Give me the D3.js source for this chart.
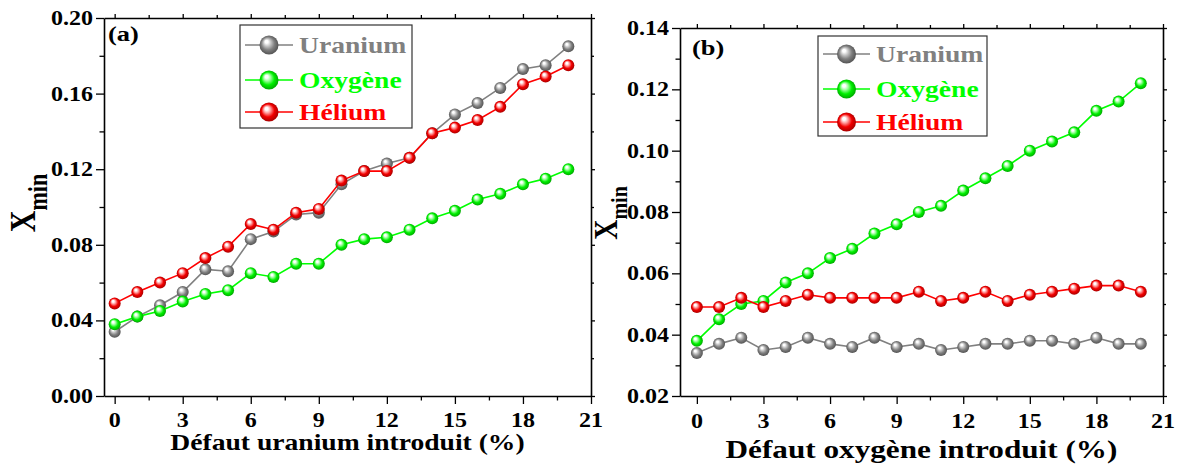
<!DOCTYPE html>
<html>
<head>
<meta charset="utf-8">
<script src="https://cdn.jsdelivr.net/npm/d3@7"></script>
<style>
  html, body { margin: 0; padding: 0; background: #fff; }
  svg { display: block; }
</style>
</head>
<body>
<svg id="chart" width="1181" height="466"></svg>
<script>
// ---------- data ----------
const defectPct = [0, 1, 2, 3, 4, 5, 6, 7, 8, 9, 10, 11, 12, 13, 14, 15, 16, 17, 18, 19, 20];

const uraniumA = [0.034, 0.042, 0.048, 0.055, 0.067, 0.066, 0.083, 0.087, 0.096, 0.097, 0.112, 0.119, 0.123, 0.126, 0.139, 0.149, 0.155, 0.163, 0.173, 0.175, 0.185];
const oxygenA  = [0.038, 0.042, 0.045, 0.050, 0.054, 0.056, 0.065, 0.063, 0.070, 0.070, 0.080, 0.083, 0.084, 0.088, 0.094, 0.098, 0.104, 0.107, 0.112, 0.115, 0.120];
const heliumA  = [0.049, 0.055, 0.060, 0.065, 0.073, 0.079, 0.091, 0.088, 0.097, 0.099, 0.114, 0.119, 0.119, 0.126, 0.139, 0.142, 0.146, 0.153, 0.165, 0.169, 0.175];

const uraniumB = [0.034, 0.037, 0.039, 0.035, 0.036, 0.039, 0.037, 0.036, 0.039, 0.036, 0.037, 0.035, 0.036, 0.037, 0.037, 0.038, 0.038, 0.037, 0.039, 0.037, 0.037];
const oxygenB  = [0.038, 0.045, 0.050, 0.051, 0.057, 0.060, 0.065, 0.068, 0.073, 0.076, 0.080, 0.082, 0.087, 0.091, 0.095, 0.100, 0.103, 0.106, 0.113, 0.116, 0.122];
const heliumB  = [0.049, 0.049, 0.052, 0.049, 0.051, 0.053, 0.052, 0.052, 0.052, 0.052, 0.054, 0.051, 0.052, 0.054, 0.051, 0.053, 0.054, 0.055, 0.056, 0.056, 0.054];

const seriesNames = ["Uranium", "Oxygène", "Hélium"];
const xTickValues = [0, 3, 6, 9, 12, 15, 18, 21];
const xMinorValues = [1.5, 4.5, 7.5, 10.5, 13.5, 16.5, 19.5];
const yTicksA = [0.00, 0.04, 0.08, 0.12, 0.16, 0.20];
const yMinorA = [0.02, 0.06, 0.10, 0.14, 0.18];
const yTicksB = [0.02, 0.04, 0.06, 0.08, 0.10, 0.12, 0.14];
const yMinorB = [0.03, 0.05, 0.07, 0.09, 0.11, 0.13];
const xTitleA = "Défaut uranium introduit (%)";
const xTitleB = "Défaut oxygène introduit (%)";

// ---------- styles ----------
const FONT = "'Liberation Serif', 'Times New Roman', Tinos, serif";
const palette = [
  { line: "#808080", base: "#808080", light: "#c8c8c8", dark: "#4a4a4a", text: "#808080" },
  { line: "#00ff00", base: "#00f000", light: "#9dff9d", dark: "#009a00", text: "#00ff00" },
  { line: "#ff0000", base: "#f20000", light: "#ff9d9d", dark: "#9a0000", text: "#ff0000" }
];
const SX = 1.2; // horizontal stretch of the original typography

const svg = d3.select("#chart");
const defs = svg.append("defs");
palette.forEach((p, i) => {
  const g = defs.append("radialGradient").attr("id", "sph" + i)
    .attr("cx", "50%").attr("cy", "50%").attr("r", "55%")
    .attr("fx", "35%").attr("fy", "30%");
  g.append("stop").attr("offset", "0%").attr("stop-color", "#ffffff");
  g.append("stop").attr("offset", "14%").attr("stop-color", "#ffffff");
  g.append("stop").attr("offset", "34%").attr("stop-color", p.light);
  g.append("stop").attr("offset", "62%").attr("stop-color", p.base);
  g.append("stop").attr("offset", "100%").attr("stop-color", p.dark);
});

function stretchedText(parent, x, y, str, size, anchor, fill) {
  return parent.append("text")
    .attr("transform", `translate(${x},${y}) scale(${SX},1)`)
    .attr("text-anchor", anchor || "start")
    .style("font-family", FONT)
    .style("font-weight", "bold")
    .style("font-size", size + "px")
    .attr("fill", fill || "#000")
    .text(str);
}

function drawPanel(cfg) {
  const x = d3.scaleLinear().domain(cfg.xDomain).range([cfg.left, cfg.right]);
  const y = d3.scaleLinear().domain(cfg.yDomain).range([cfg.bottom, cfg.top]);
  const g = svg.append("g");

  const axes = [
    { gen: () => d3.axisBottom(x), tr: `translate(0,${cfg.bottom})`, vals: xTickValues, minor: xMinorValues, maj: 8, min: 4.5 },
    { gen: () => d3.axisTop(x), tr: `translate(0,${cfg.top})`, vals: xTickValues, minor: xMinorValues, maj: 4, min: 3 },
    { gen: () => d3.axisLeft(y), tr: `translate(${cfg.left},0)`, vals: cfg.yTicks, minor: cfg.yMinor, maj: 8, min: 4.5 },
    { gen: () => d3.axisRight(y), tr: `translate(${cfg.right},0)`, vals: cfg.yTicks, minor: cfg.yMinor, maj: 4, min: 3 }
  ];
  axes.forEach(a => {
    const minorG = g.append("g").attr("transform", a.tr)
      .call(a.gen().tickValues(a.minor).tickSize(a.min).tickFormat(""));
    minorG.select(".domain").remove();
    minorG.selectAll("line").attr("stroke", "#000").attr("stroke-width", 1.3);
    const majorG = g.append("g").attr("transform", a.tr)
      .call(a.gen().tickValues(a.vals).tickSizeInner(a.maj).tickSizeOuter(0).tickFormat(""));
    majorG.select(".domain").attr("stroke", "#000").attr("stroke-width", 1.6);
    majorG.selectAll("line").attr("stroke", "#000").attr("stroke-width", 1.3);
  });

  xTickValues.forEach(v => {
    stretchedText(g, x(v), cfg.xLabelBase, String(v), 20, "middle");
  });
  cfg.yTicks.forEach(v => {
    stretchedText(g, cfg.left - 11, y(v) + 7, v.toFixed(2), 20, "end");
  });

  stretchedText(g, (cfg.left + cfg.right) / 2, cfg.titleBase, cfg.xTitle, cfg.titleSize, "middle");
  const yl = g.append("text")
    .attr("transform", `translate(${cfg.yLabelX},${cfg.yLabelY}) rotate(-90) scale(1,${SX})`)
    .attr("text-anchor", "middle")
    .style("font-family", FONT)
    .style("font-weight", "bold")
    .style("font-size", cfg.yLabelSize + "px");
  yl.append("tspan").text("X");
  yl.append("tspan").style("font-size", cfg.ySubSize + "px").attr("dy", cfg.ySubDy).text("min");

  stretchedText(g, cfg.letterX, cfg.letterY, cfg.letter, 22, "start");

  const line = d3.line().x((d, i) => x(defectPct[i])).y(d => y(d));
  cfg.series.forEach((vals, si) => {
    g.append("path").datum(vals)
      .attr("d", line).attr("fill", "none")
      .attr("stroke", palette[si].line).attr("stroke-width", 1.6);
    g.selectAll(null).data(vals).enter().append("circle")
      .attr("cx", (d, i) => x(defectPct[i])).attr("cy", d => y(d))
      .attr("r", 6).attr("fill", `url(#sph${si})`);
  });

  const L = cfg.legend;
  g.append("rect").attr("x", L.x).attr("y", L.y).attr("width", L.w).attr("height", L.h)
    .attr("fill", "#fff").attr("stroke", "#333").attr("stroke-width", 1.2);
  seriesNames.forEach((name, si) => {
    const ry = L.rows[si];
    g.append("line").attr("x1", L.lx1).attr("x2", L.lx2).attr("y1", ry).attr("y2", ry)
      .attr("stroke", palette[si].line).attr("stroke-width", 1.6);
    g.append("circle").attr("cx", (L.lx1 + L.lx2) / 2).attr("cy", ry).attr("r", 9.5)
      .attr("fill", `url(#sph${si})`);
    stretchedText(g, L.tx, ry + 8, name, 23, "start", palette[si].text);
  });
}

drawPanel({
  left: 104, right: 591, top: 18, bottom: 396,
  xDomain: [-0.47, 21], yDomain: [0, 0.2],
  yTicks: yTicksA, yMinor: yMinorA,
  xLabelBase: 427, titleBase: 450, titleSize: 23, xTitle: xTitleA,
  yLabelX: 35, yLabelY: 203, yLabelSize: 30, ySubSize: 22, ySubDy: 10,
  letter: "(a)", letterX: 108, letterY: 41,
  series: [uraniumA, oxygenA, heliumA],
  legend: { x: 240, y: 25, w: 172, h: 103, rows: [45, 80, 112], lx1: 245, lx2: 293, tx: 299 }
});

drawPanel({
  left: 680, right: 1163, top: 28, bottom: 396,
  xDomain: [-0.76, 21], yDomain: [0.02, 0.14],
  yTicks: yTicksB, yMinor: yMinorB,
  xLabelBase: 428, titleBase: 458, titleSize: 26, xTitle: xTitleB,
  yLabelX: 617, yLabelY: 213, yLabelSize: 28, ySubSize: 20, ySubDy: 8,
  letter: "(b)", letterX: 692, letterY: 55,
  series: [uraniumB, oxygenB, heliumB],
  legend: { x: 818, y: 36, w: 169, h: 100, rows: [54, 89, 122], lx1: 823, lx2: 870, tx: 876 }
});
</script>
</body>
</html>
